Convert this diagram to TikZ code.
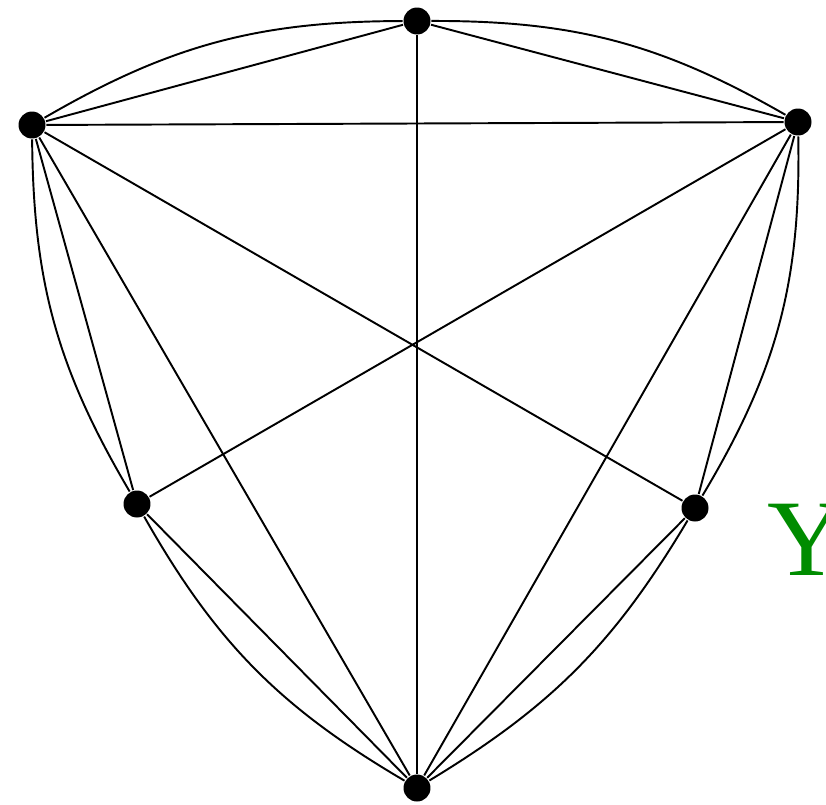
\documentclass[tikz,border=0pt]{standalone}
\usepackage{fontspec}
\usepackage{tikz}
\newfontfamily\yfont{Liberation Serif}
\definecolor{ygreen}{RGB}{0,140,0}

\begin{document}
\begin{tikzpicture}[x=0.02cm, y=-0.02cm, line width=1.1pt,
  vertex/.style={circle, fill=black, inner sep=0pt, minimum size=0.54cm}]
\useasboundingbox (0,0) rectangle (826,805);
\node[vertex] (t) at (417,21) {};
\node[vertex] (ul) at (32,125) {};
\node[vertex] (ur) at (798,122) {};
\node[vertex] (ll) at (137,504) {};
\node[vertex] (lr) at (695,508) {};
\node[vertex] (b) at (417,788) {};
\draw (t) -- (ul);
\draw (t) -- (ur);
\draw (t) -- (b);
\draw (ul) -- (ur);
\draw (ul) -- (ll);
\draw (ul) -- (lr);
\draw (ul) -- (b);
\draw (ur) -- (ll);
\draw (ur) -- (lr);
\draw (ur) -- (b);
\draw (ll) -- (b);
\draw (lr) -- (b);
\draw (ul) to[bend left=15] (t);
\draw (t) to[bend left=15] (ur);
\draw (ll) to[bend left=15] (ul);
\draw (ur) to[bend left=16] (lr);
\draw (b) to[bend left=15] (ll);
\draw (lr) to[bend left=14] (b);
\node[anchor=base west, inner sep=0pt, text=ygreen, font=\yfont\fontsize{62}{62}\selectfont] (y) at (767,575) {Y};
\end{tikzpicture}
\end{document}
